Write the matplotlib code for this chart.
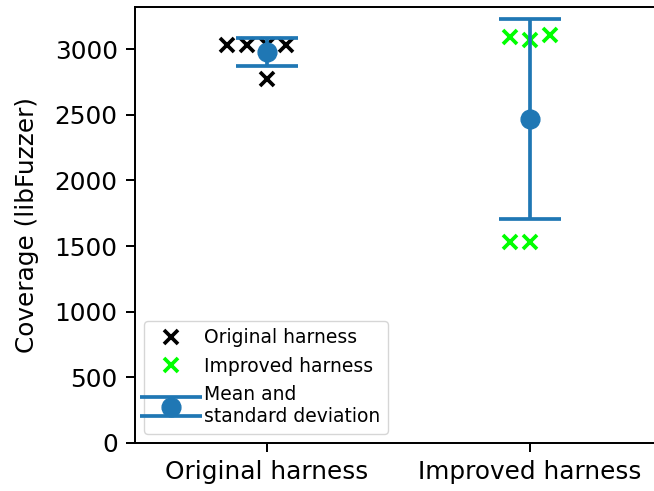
import numpy as np
import matplotlib
matplotlib.use("Agg")
import matplotlib.pyplot as plt

# Coverage reached by each libFuzzer run
categories = ["Original harness", "Improved harness"]
original_cov = [3030, 3030, 3030, 3030, 2769]
improved_cov = [3094, 3068, 3107, 1533, 1533]
yticks = [0, 500, 1000, 1500, 2000, 2500, 3000]

S = 1.78  # overall scale of lines, markers and text
plt.rcParams["font.size"] = 10 * S
plt.rcParams["axes.linewidth"] = 0.8 * S
plt.rcParams["xtick.major.width"] = 0.8 * S
plt.rcParams["ytick.major.width"] = 0.8 * S
plt.rcParams["xtick.major.size"] = 3.5 * S
plt.rcParams["ytick.major.size"] = 3.5 * S
plt.rcParams["xtick.major.pad"] = 3.5 * S
plt.rcParams["ytick.major.pad"] = 3.5 * S


def spread(values, step=0.075, tol=150):
    """Horizontal offsets that fan out runs with near-identical coverage."""
    groups = []
    for i, v in enumerate(values):
        for g in groups:
            if abs(values[g[0]] - v) < tol:
                g.append(i)
                break
        else:
            groups.append([i])
    offs = np.zeros(len(values))
    for g in groups:
        n = len(g)
        for k, idx in enumerate(g):
            offs[idx] = (k - n // 2) * step
    return offs


fig = plt.figure(figsize=(6.54, 4.91), dpi=100)
ax = fig.add_axes([135 / 654, 48 / 491, 526.5 / 654, 436 / 491])

pos = np.arange(len(categories))
ax.plot(pos[0] + spread(original_cov), original_cov, ls="none", marker="x",
        color="black", markersize=6 * S, markeredgewidth=1.5 * S,
        label="Original harness")
ax.plot(pos[1] + spread(improved_cov), improved_cov, ls="none", marker="x",
        color="lime", markersize=6 * S, markeredgewidth=1.5 * S,
        label="Improved harness")

means = [np.mean(original_cov), np.mean(improved_cov)]
stds = [np.std(original_cov), np.std(improved_cov)]
ax.errorbar(pos, means, yerr=stds, fmt="o", color="#1f77b4",
            markersize=7.6 * S, elinewidth=1.5 * S, capthick=1.5 * S,
            capsize=12.7 * S, label="Mean and\nstandard deviation")

ax.set_xlim(-0.5, 1.5)
ax.set_ylim(0, 3320)
ax.set_xticks(pos)
ax.set_xticklabels(categories)
ax.set_yticks(yticks)
ax.set_ylabel("Coverage (libFuzzer)", labelpad=11)
ax.legend(loc="lower left", fontsize=13.5)

fig.savefig("out.png", dpi=100)
